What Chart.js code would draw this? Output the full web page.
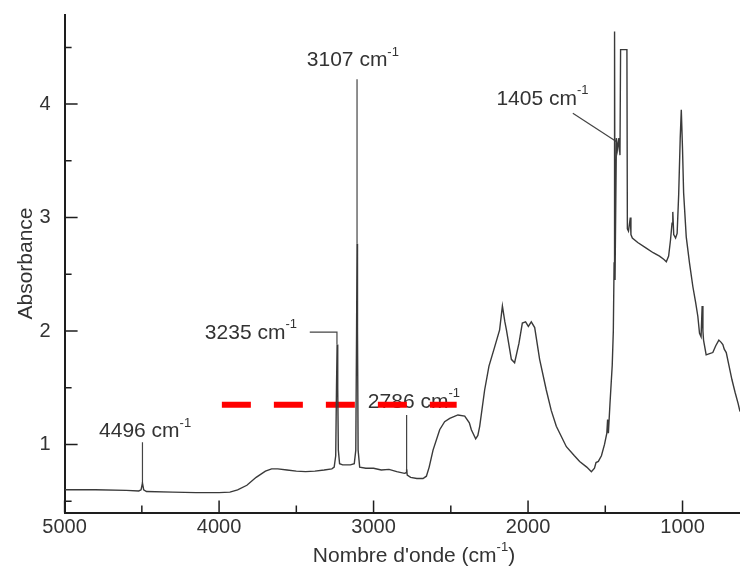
<!DOCTYPE html>
<html lang="fr">
<head>
<meta charset="utf-8">
<title>Spectre IR</title>
<script src="https://cdn.jsdelivr.net/npm/chart.js@4.4.1/dist/chart.umd.min.js"></script>
<style>
  html, body { margin: 0; padding: 0; background: #fff; }
  #zone { width: 740px; height: 570px; overflow: hidden; }
</style>
</head>
<body>
<div id="zone"><canvas id="graficoSpectre" width="740" height="570"></canvas></div>
<script>
// -------------------------------------------------------------
// DONNÉES
// -------------------------------------------------------------

const nombreOnde = [
  5000, 4800, 4600, 4520, 4505, 4496, 4488, 4470, 4300, 4150, 4000, 3930, 3880, 3820, 3760, 3700, 3660, 3620,
  3560, 3500, 3440, 3380, 3320, 3270, 3255, 3245, 3240, 3236, 3232, 3228, 3220, 3200, 3150, 3125, 3115, 3110,
  3107, 3104, 3100, 3090, 3050, 3000, 2950, 2900, 2850, 2800, 2790, 2786, 2782, 2760, 2720, 2680, 2658, 2640,
  2615, 2572, 2540, 2507, 2454, 2410, 2380, 2367, 2339, 2325, 2313, 2281, 2253, 2216, 2184, 2166, 2150, 2140,
  2108, 2087, 2059, 2037, 2016, 1998, 1979, 1957, 1925, 1882, 1850, 1817, 1752, 1700, 1666, 1620, 1590, 1570,
  1560, 1545, 1525, 1505, 1490, 1485, 1480, 1470, 1455, 1448, 1443, 1440, 1437, 1432, 1428, 1420, 1412, 1405,
  1401, 1390, 1372, 1360, 1357, 1350, 1343, 1338, 1334, 1325, 1290, 1235, 1190, 1149, 1120, 1105, 1090, 1078,
  1068, 1063, 1057, 1045, 1035, 1025, 1015, 1008, 1000, 993, 976, 955, 933, 915, 901, 890, 880, 873,
  868, 864, 847, 825, 804, 785, 765, 750, 739, 730, 717, 700, 680, 660, 640, 628
];
const absorbance = [
  0.60, 0.60, 0.595, 0.59, 0.60, 0.66, 0.60, 0.585, 0.58, 0.575, 0.575, 0.58, 0.60, 0.64, 0.71, 0.765, 0.785, 0.785,
  0.775, 0.765, 0.76, 0.765, 0.775, 0.785, 0.80, 0.90, 1.50, 1.88, 1.50, 0.95, 0.83, 0.82, 0.82, 0.83, 0.95, 2.00,
  2.77, 2.00, 0.95, 0.80, 0.79, 0.79, 0.775, 0.78, 0.76, 0.745, 0.75, 0.78, 0.73, 0.71, 0.70, 0.70, 0.72, 0.80,
  0.95, 1.13, 1.20, 1.23, 1.26, 1.25, 1.19, 1.13, 1.05, 1.08, 1.16, 1.48, 1.69, 1.86, 2.01, 2.22, 2.08, 2.01,
  1.75, 1.72, 1.89, 2.07, 2.08, 2.04, 2.08, 2.03, 1.75, 1.48, 1.30, 1.16, 0.98, 0.90, 0.85, 0.80, 0.76, 0.79,
  0.84, 0.85, 0.90, 1.00, 1.10, 1.22, 1.10, 1.35, 1.70, 2.00, 2.60, 4.64, 2.45, 2.45, 3.70, 3.60, 3.70, 3.55,
  4.48, 4.48, 4.48, 4.48, 2.90, 2.88, 2.95, 3.00, 2.85, 2.82, 2.78, 2.73, 2.69, 2.66, 2.63, 2.61, 2.66, 2.80,
  2.95, 3.05, 2.85, 2.82, 2.86, 3.20, 3.70, 3.95, 3.60, 3.22, 2.83, 2.60, 2.39, 2.25, 2.13, 1.98, 1.95, 2.22,
  2.00, 1.92, 1.79, 1.80, 1.81, 1.87, 1.92, 1.90, 1.88, 1.84, 1.81, 1.70, 1.57, 1.46, 1.36, 1.29
];

// axes
const xTicksMajeurs = [1000, 2000, 3000, 4000, 5000];
const xTicksMineurs = [1500, 2500, 3500, 4500];
const yTicksMajeurs = [1, 2, 3, 4];
const yTicksMineurs = [0.5, 1.5, 2.5, 3.5, 4.5];

// annotations : texte, position de l'étiquette (bord gauche, milieu) et trait de repère
const annotTextes = ['4496 cm', '3235 cm', '3107 cm', '2786 cm', '1405 cm'];
const annotX = [4777, 4092, 3432, 3037, 2205];
const annotY = [1.13, 2.00, 4.40, 1.39, 4.06];
const repere4496 = [[4496, 1.02], [4496, 0.66]];
const repere3235 = [[3413, 1.99], [3237, 1.99], [3237, 1.88]];
const repere3107 = [[3107, 4.22], [3107, 2.77]];
const repere2786 = [[2786, 1.26], [2786, 0.76]];
const repere1405 = [[1710, 3.92], [1429, 3.67]];

// trait rouge en tirets
const rougeX = [3982, 2462];
const rougeY = [1.35, 1.35];

// -------------------------------------------------------------
// DESSIN
// -------------------------------------------------------------

const POLICE = '"Liberation Sans", Arial, sans-serif';
const COUL_TEXTE = '#333333';
const COUL_AXE = '#1e1e1e';

function ecrireAvecExposant(ctx, x, y, morceaux, taille, centre) {
    // morceaux : [texte, estExposant]
    let largeur = 0;
    const mesures = morceaux.map(([txt, expo]) => {
        ctx.font = `${expo ? Math.round(taille * 0.6) : taille}px ${POLICE}`;
        const w = ctx.measureText(txt).width;
        largeur += w;
        return w;
    });
    let cx = centre ? x - largeur / 2 : x;
    ctx.fillStyle = COUL_TEXTE;
    ctx.textAlign = 'left';
    ctx.textBaseline = 'alphabetic';
    const base = y + taille * 0.36;
    morceaux.forEach(([txt, expo], i) => {
        ctx.font = `${expo ? Math.round(taille * 0.6) : taille}px ${POLICE}`;
        ctx.fillText(txt, cx, expo ? base - taille * 0.5 : base);
        cx += mesures[i];
    });
}

const pluginDecor = {
    id: 'decor',
    beforeDatasetsDraw(chart) {
        const { ctx, scales: { x, y } } = chart;
        ctx.save();
        annotTextes.forEach((txt, i) => {
            ecrireAvecExposant(ctx, x.getPixelForValue(annotX[i]), y.getPixelForValue(annotY[i]),
                [[txt, false], ['-1', true]], 21, false);
        });
        ctx.restore();
    },
    afterDraw(chart) {
        const { ctx, scales: { x, y }, chartArea } = chart;
        ctx.save();
        ctx.strokeStyle = COUL_AXE;
        ctx.lineWidth = 1.5;
        ctx.beginPath();
        xTicksMajeurs.concat(xTicksMineurs).forEach(v => {
            const px = x.getPixelForValue(v);
            const long = xTicksMajeurs.includes(v) ? 12 : 7;
            ctx.moveTo(px, chartArea.bottom);
            ctx.lineTo(px, chartArea.bottom - long);
        });
        yTicksMajeurs.concat(yTicksMineurs).forEach(v => {
            const py = y.getPixelForValue(v);
            const long = yTicksMajeurs.includes(v) ? 13 : 7;
            ctx.moveTo(chartArea.left, py);
            ctx.lineTo(chartArea.left + long, py);
        });
        ctx.stroke();

        // titre de l'axe x
        ecrireAvecExposant(ctx, 414, 554, [["Nombre d'onde (cm", false], ['-1', true], [')', false]], 21, true);
        ctx.restore();
    }
};

function enPoints(paires) {
    return paires.map(([a, b]) => ({ x: a, y: b }));
}

function creerGraphique() {
    const ctx = document.getElementById('graficoSpectre').getContext('2d');
    const spectre = nombreOnde.map((v, i) => ({ x: v, y: absorbance[i] }));
    const styleRepere = { borderColor: '#444444', borderWidth: 1.2, pointRadius: 0, fill: false, tension: 0 };

    new Chart(ctx, {
        type: 'line',
        data: {
            datasets: [
                { data: spectre, borderColor: '#3a3a3a', borderWidth: 1.4, pointRadius: 0, fill: false, tension: 0 },
                { data: enPoints(repere4496), ...styleRepere },
                { data: enPoints(repere3235), ...styleRepere },
                { data: enPoints(repere3107), ...styleRepere },
                { data: enPoints(repere2786), ...styleRepere },
                { data: enPoints(repere1405), ...styleRepere },
                {
                    data: rougeX.map((v, i) => ({ x: v, y: rougeY[i] })),
                    borderColor: '#ff0000', borderWidth: 6, borderDash: [29, 23],
                    pointRadius: 0, fill: false, tension: 0
                }
            ]
        },
        options: {
            responsive: false,
            devicePixelRatio: 1,
            animation: false,
            parsing: false,
            layout: { padding: { top: 14.5, right: 0, bottom: 0, left: 0 } },
            plugins: { legend: { display: false }, tooltip: { enabled: false } },
            scales: {
                x: {
                    type: 'linear', reverse: true, min: 628, max: 5000,
                    afterBuildTicks: s => { s.ticks = xTicksMajeurs.map(v => ({ value: v })); },
                    afterFit: s => { s.height = 57.5; s.paddingLeft = 0; s.paddingRight = 0; },
                    grid: { display: false, drawTicks: false },
                    border: { display: true, color: COUL_AXE, width: 2 },
                    ticks: {
                        color: COUL_TEXTE, font: { size: 20, family: POLICE }, padding: 3, maxRotation: 0,
                        callback: v => String(v)
                    }
                },
                y: {
                    type: 'linear', min: 0.4, max: 4.79,
                    afterBuildTicks: s => { s.ticks = yTicksMajeurs.map(v => ({ value: v })); },
                    afterFit: s => { s.width = 64.6; s.paddingTop = 0; s.paddingBottom = 0; },
                    grid: { display: false, drawTicks: false },
                    border: { display: true, color: COUL_AXE, width: 2 },
                    ticks: { color: COUL_TEXTE, font: { size: 20, family: POLICE }, padding: 14, callback: v => String(v) },
                    title: {
                        display: true, text: 'Absorbance', color: COUL_TEXTE,
                        font: { size: 21, family: POLICE }, padding: { top: 14, bottom: 0 }
                    }
                }
            }
        },
        plugins: [pluginDecor]
    });
}

window.onload = creerGraphique;
</script>
</body>
</html>
